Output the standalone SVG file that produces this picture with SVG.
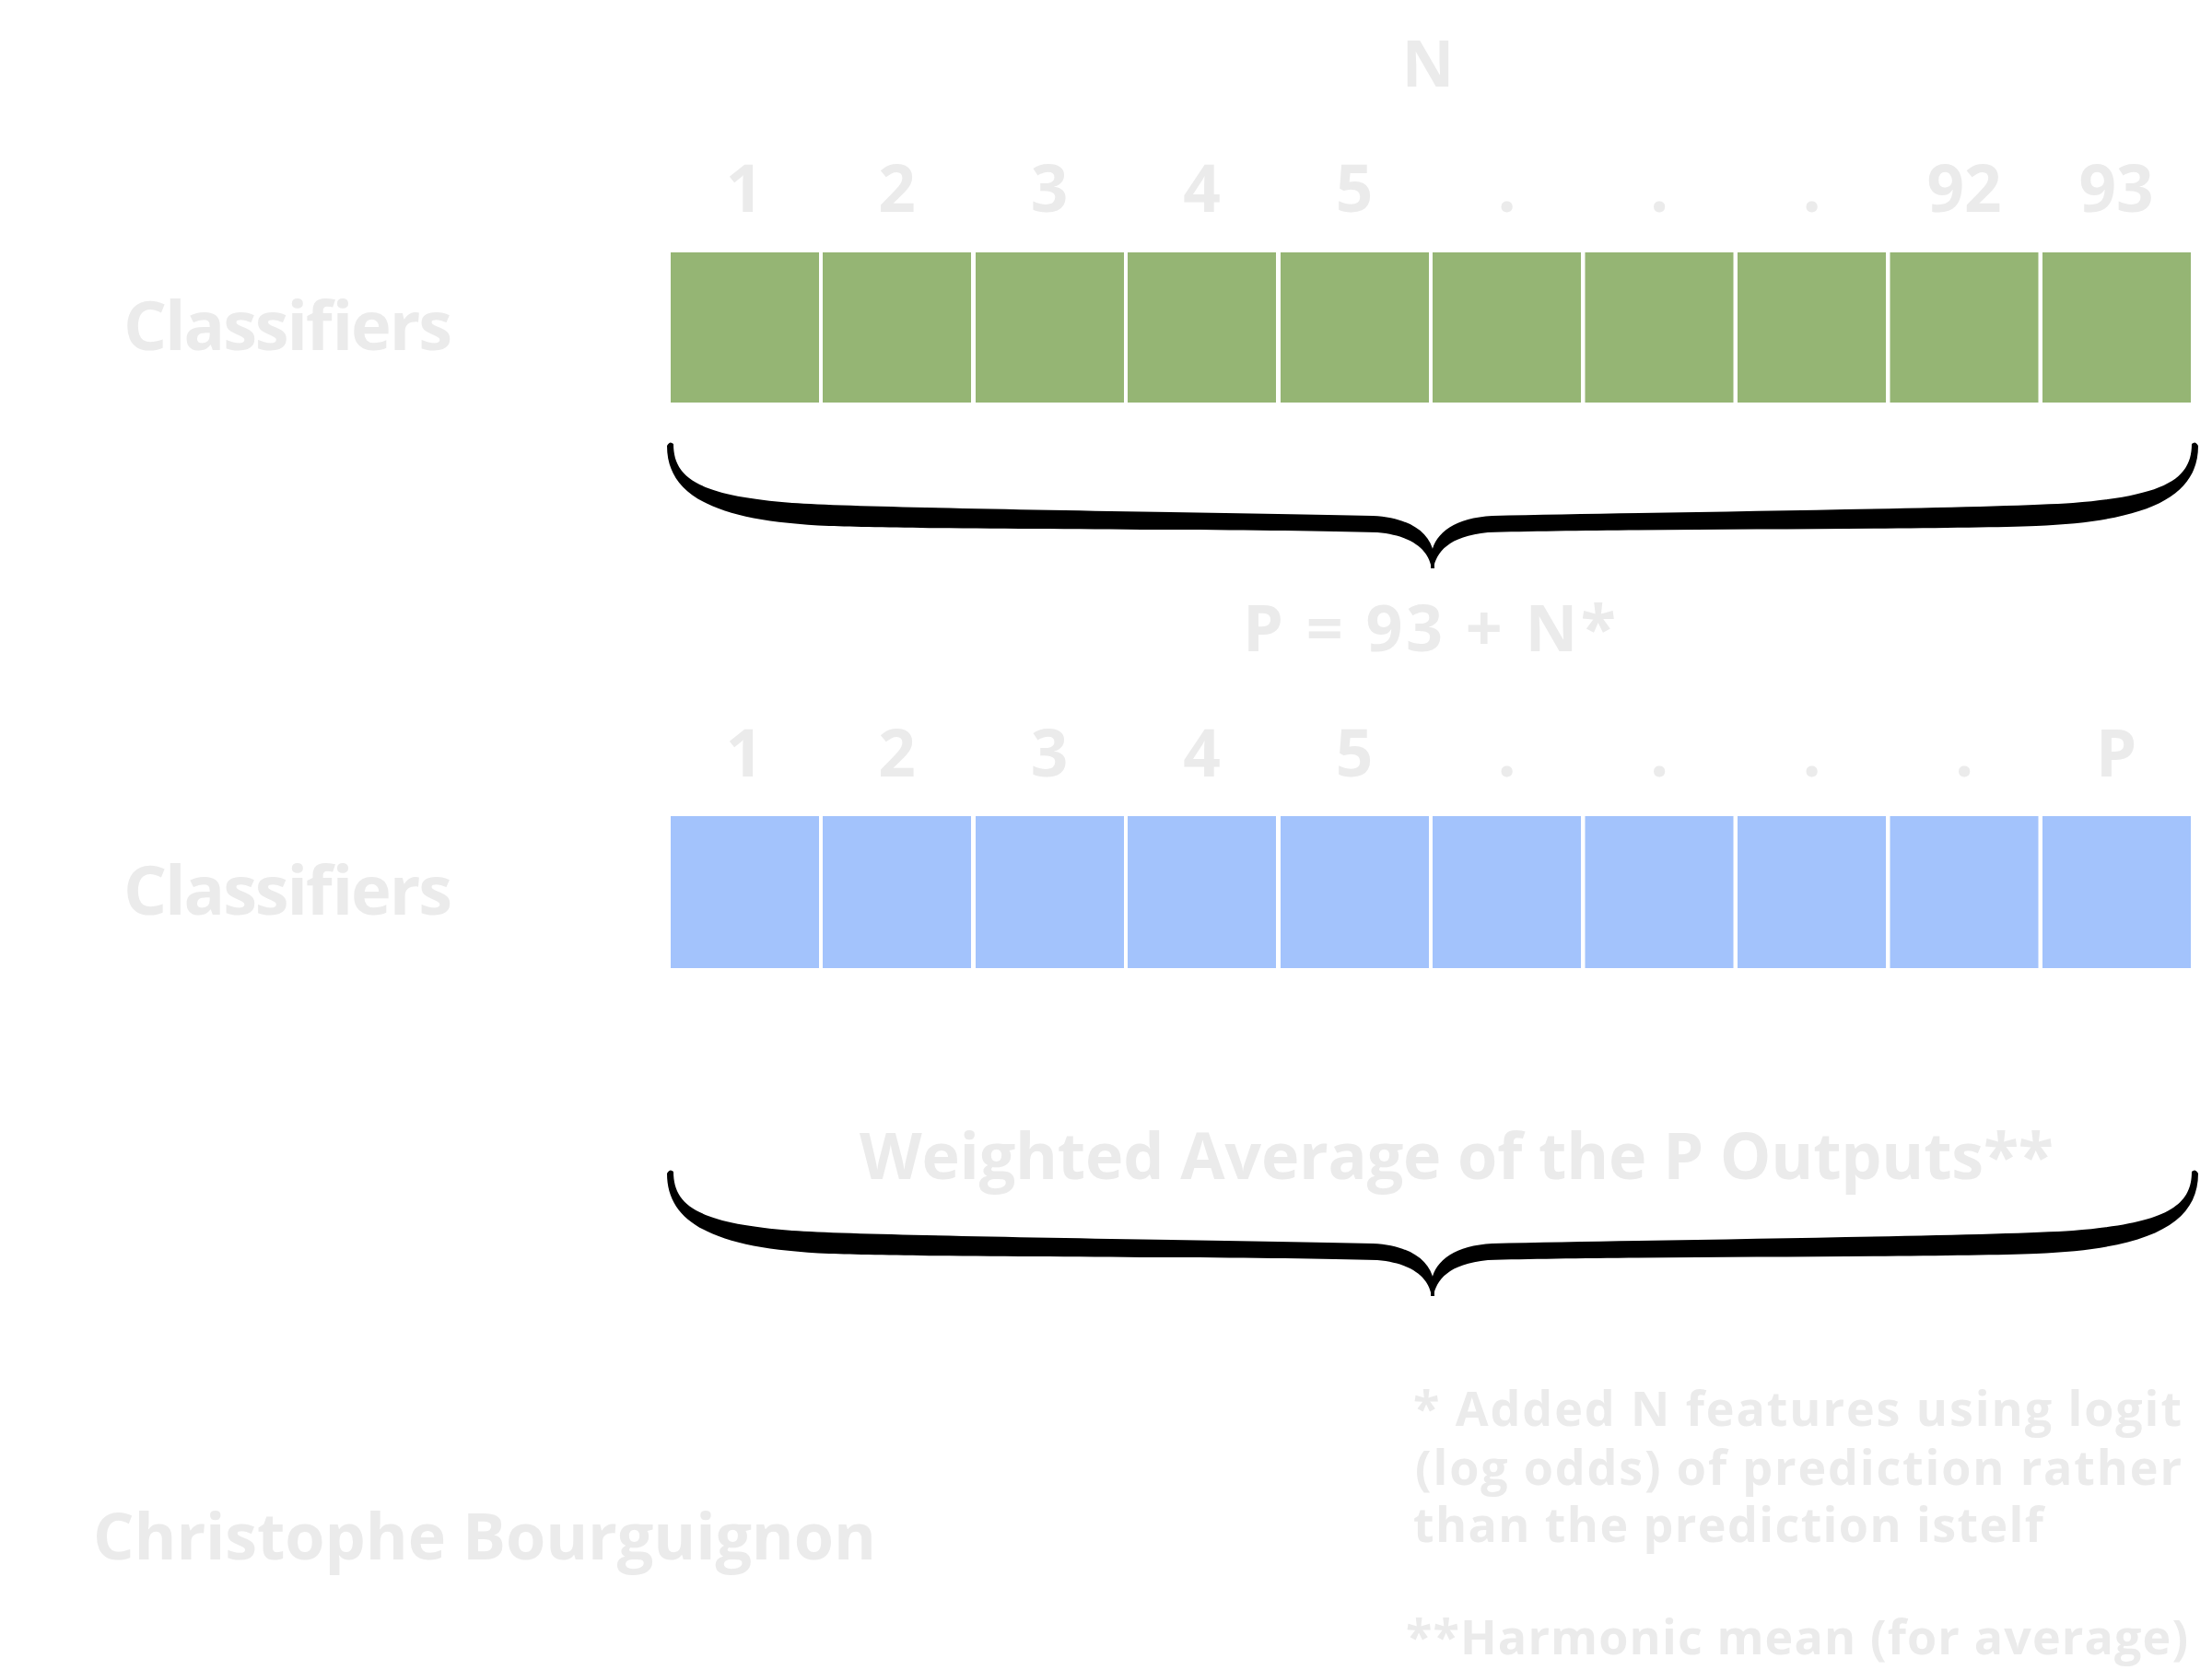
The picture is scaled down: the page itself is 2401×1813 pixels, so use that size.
<svg xmlns="http://www.w3.org/2000/svg" width="2401" height="1813" viewBox="0 0 2401 1813">
<style>
.t{font-family:"Open Sans","Noto Sans","Liberation Sans",sans-serif;font-weight:bold;fill:#EBEBEB;}
.lbl{font-size:74px;}
.num{font-size:71px;text-anchor:middle;}
.big{font-size:70px;}
.note{font-size:52px;}
.g{fill:#95B574;}
.b{fill:#A3C3FC;}
</style>
<defs>
<path id="half" d="M724,484 Q727,478 731,482 C731,520 760,538 860,546 C950,552 1300,556 1490,560 C1530,562 1552,578 1556,600 L1557,617 L1554,617 C1551,600 1538,582 1495,578 C1350,574 1000,575 900,571 C780,566 724,540 724,484 Z"/>
<g id="brace">
<use href="#half"/>
<use href="#half" transform="translate(3110,0) scale(-1,1)"/>
</g>
</defs>
<rect width="2401" height="1813" fill="#fff"/>

<g id="title-N"><text class="t big" x="1550" y="94" text-anchor="middle">N</text></g>

<g id="label-classifiers-1"><text class="t lbl" x="134" y="380" textLength="357" lengthAdjust="spacing">Classifiers</text></g>
<g id="label-classifiers-2"><text class="t lbl" x="134" y="993" textLength="357" lengthAdjust="spacing">Classifiers</text></g>

<g id="row1-numbers">
<text class="t num" x="808" y="230">1</text>
<text class="t num" x="973.5" y="230">2</text>
<text class="t num" x="1139" y="230">3</text>
<text class="t num" x="1304.5" y="230">4</text>
<text class="t num" x="1470" y="230">5</text>
<text class="t num" x="1635.5" y="230">.</text>
<text class="t num" x="1801" y="230">.</text>
<text class="t num" x="1966.5" y="230">.</text>
<text class="t num" x="2132" y="230">92</text>
<text class="t num" x="2297" y="230">93</text>
</g>

<g id="row1-boxes">
<rect class="g" x="728" y="274" width="161" height="163"/>
<rect class="g" x="893" y="274" width="161" height="163"/>
<rect class="g" x="1059" y="274" width="161" height="163"/>
<rect class="g" x="1224" y="274" width="161" height="163"/>
<rect class="g" x="1390" y="274" width="161" height="163"/>
<rect class="g" x="1555" y="274" width="161" height="163"/>
<rect class="g" x="1720.5" y="274" width="161" height="163"/>
<rect class="g" x="1886" y="274" width="161" height="163"/>
<rect class="g" x="2051.5" y="274" width="161" height="163"/>
<rect class="g" x="2217" y="274" width="161" height="163"/>
</g>

<g id="connectors">
<use href="#brace"/>
<use href="#brace" transform="translate(0,790)"/>
</g>

<g id="label-p"><text class="t big" x="1349" y="707" textLength="405" lengthAdjust="spacing">P = 93 + N*</text></g>

<g id="row2-numbers">
<text class="t num" x="808" y="843">1</text>
<text class="t num" x="973.5" y="843">2</text>
<text class="t num" x="1139" y="843">3</text>
<text class="t num" x="1304.5" y="843">4</text>
<text class="t num" x="1470" y="843">5</text>
<text class="t num" x="1635.5" y="843">.</text>
<text class="t num" x="1801" y="843">.</text>
<text class="t num" x="1966.5" y="843">.</text>
<text class="t num" x="2132" y="843">.</text>
<text class="t num" x="2297" y="843">P</text>
</g>

<g id="row2-boxes">
<rect class="b" x="728" y="886" width="161" height="165"/>
<rect class="b" x="893" y="886" width="161" height="165"/>
<rect class="b" x="1059" y="886" width="161" height="165"/>
<rect class="b" x="1224" y="886" width="161" height="165"/>
<rect class="b" x="1390" y="886" width="161" height="165"/>
<rect class="b" x="1555" y="886" width="161" height="165"/>
<rect class="b" x="1720.5" y="886" width="161" height="165"/>
<rect class="b" x="1886" y="886" width="161" height="165"/>
<rect class="b" x="2051.5" y="886" width="161" height="165"/>
<rect class="b" x="2217" y="886" width="161" height="165"/>
</g>

<g id="label-weighted"><text class="t big" x="933" y="1280" textLength="1296" lengthAdjust="spacing">Weighted Average of the P Outputs**</text></g>

<g id="footnotes">
<text class="t note" x="1534" y="1548" textLength="834" lengthAdjust="spacing">* Added N features using logit</text>
<text class="t note" x="1536" y="1612" textLength="832" lengthAdjust="spacing">(log odds) of prediction rather</text>
<text class="t note" x="1534" y="1674" textLength="684" lengthAdjust="spacing">than the prediction istelf</text>
<text class="t note" x="1526" y="1796" textLength="849" lengthAdjust="spacing">**Harmonic mean (for average)</text>
</g>

<g id="author"><text class="t big" x="101" y="1693" textLength="850" lengthAdjust="spacing">Christophe Bourguignon</text></g>
</svg>
